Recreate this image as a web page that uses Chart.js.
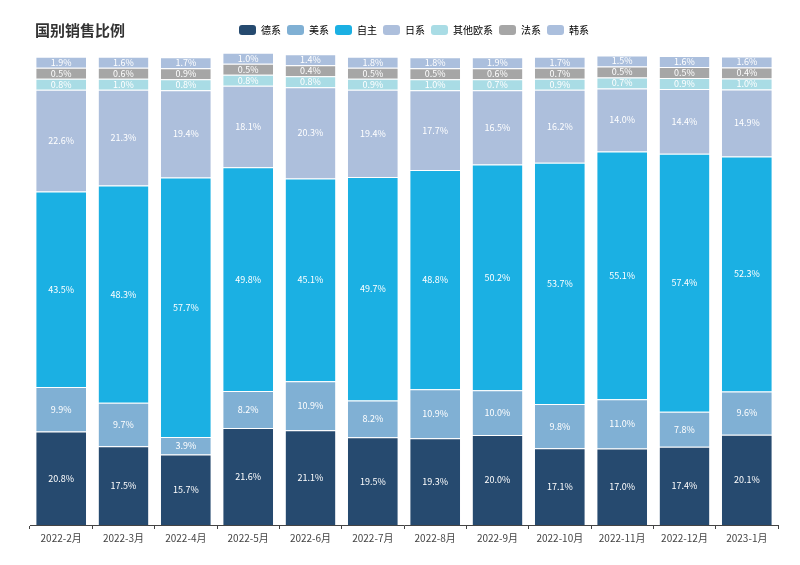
<!DOCTYPE html>
<html>
<head>
<meta charset="utf-8">
<script src="https://cdn.jsdelivr.net/npm/chart.js@4"></script>
<style>
  html, body { margin: 0; padding: 0; background: #fff; }
  #wrap { position: relative; width: 800px; height: 565px; }
  #title { position: absolute; left: 35px; top: 19px; font: bold 15px "Noto Sans CJK SC", sans-serif; color: #333; }
</style>
</head>
<body>
<div id="wrap">
  <div id="title">国别销售比例</div>
  <canvas id="c" width="800" height="565"></canvas>
</div>
<script>
const categories = ['2022-2月','2022-3月','2022-4月','2022-5月','2022-6月','2022-7月','2022-8月','2022-9月','2022-10月','2022-11月','2022-12月','2023-1月'];
const seriesNames = ['德系','美系','自主','日系','其他欧系','法系','韩系'];
const deXi   = [20.8,17.5,15.7,21.6,21.1,19.5,19.3,20.0,17.1,17.0,17.4,20.1];
const meiXi  = [9.9,9.7,3.9,8.2,10.9,8.2,10.9,10.0,9.8,11.0,7.8,9.6];
const ziZhu  = [43.5,48.3,57.7,49.8,45.1,49.7,48.8,50.2,53.7,55.1,57.4,52.3];
const riXi   = [22.6,21.3,19.4,18.1,20.3,19.4,17.7,16.5,16.2,14.0,14.4,14.9];
const otherEu= [0.8,1.0,0.8,0.8,0.8,0.9,1.0,0.7,0.9,0.7,0.9,1.0];
const faXi   = [0.5,0.6,0.9,0.5,0.4,0.5,0.5,0.6,0.7,0.5,0.5,0.4];
const hanXi  = [1.9,1.6,1.7,1.0,1.4,1.8,1.8,1.9,1.7,1.5,1.6,1.6];

const seriesValues = [deXi, meiXi, ziZhu, riXi, otherEu, faXi, hanXi];
const colors = ['#264a6f','#80b0d4','#1bb0e3','#adbfdc','#a9dce5','#a6a6a6','#abbfdd'];

const labelPlugin = {
  id: 'segLabels',
  afterDatasetsDraw(chart) {
    const ctx = chart.ctx;
    ctx.save();
    ctx.font = '9px "Noto Sans CJK SC", sans-serif';
    ctx.fillStyle = '#ffffff';
    ctx.textAlign = 'center';
    ctx.textBaseline = 'middle';
    chart.data.datasets.forEach((ds, di) => {
      const meta = chart.getDatasetMeta(di);
      meta.data.forEach((bar, i) => {
        const v = ds.data[i];
        const y = (bar.y + bar.base) / 2;
        ctx.fillText(v.toFixed(1) + '%', bar.x, y);
      });
    });
    ctx.restore();
  }
};

const legendGap = {
  id: 'legendGap',
  beforeInit(chart) {
    const fit = chart.legend.fit;
    chart.legend.fit = function () {
      fit.call(this);
      this.height += 8;
    };
  },
  afterLayout(chart) {
    chart.legend.left += 10;
    chart.legend.right += 10;
  }
};

new Chart(document.getElementById('c'), {
  type: 'bar',
  data: {
    labels: categories,
    datasets: seriesNames.map((n, k) => ({
      label: n,
      data: seriesValues[k],
      backgroundColor: colors[k],
      borderColor: 'rgba(255,255,255,0.55)',
      borderWidth: {top: 1, bottom: 0, left: 0, right: 0},
      borderSkipped: false,
      minBarLength: 11,
      categoryPercentage: 0.8,
      barPercentage: 1.0
    }))
  },
  options: {
    responsive: false,
    animation: false,
    devicePixelRatio: 1,
    layout: { padding: { left: 30, right: 22, top: 19, bottom: 18 } },
    plugins: {
      legend: {
        display: true,
        position: 'top',
        align: 'center',
        labels: {
          boxWidth: 17,
          boxHeight: 10,
          useBorderRadius: true,
          borderRadius: 3,
          padding: 6,
          color: '#555',
          font: { size: 10, family: '"Noto Sans CJK SC", sans-serif' },
          generateLabels(chart) {
            return chart.data.datasets.map((ds, i) => ({
              text: ds.label,
              fillStyle: ds.backgroundColor,
              strokeStyle: ds.backgroundColor,
              lineWidth: 0,
              borderRadius: 3,
              hidden: false,
              datasetIndex: i
            }));
          }
        }
      },
      tooltip: { enabled: false }
    },
    scales: {
      x: {
        stacked: true,
        grid: { display: true, drawOnChartArea: false, drawTicks: true, tickLength: 4, offset: true, color: '#444' },
        border: { display: true, color: '#444' },
        ticks: { color: '#444', font: { size: 10, family: '"Noto Sans CJK SC", sans-serif' }, maxRotation: 0, autoSkip: false }
      },
      y: {
        stacked: true,
        min: 0,
        max: 105,
        display: false
      }
    }
  },
  plugins: [labelPlugin, legendGap]
});
</script>
</body>
</html>
